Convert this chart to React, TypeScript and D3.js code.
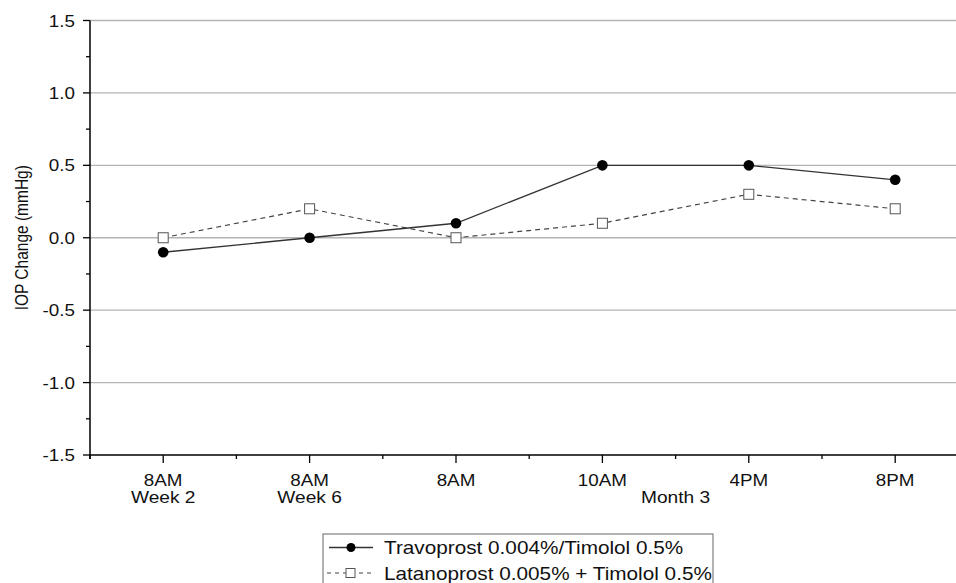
import React from "react";
import * as d3 from "d3";

const categories = ["c1", "c2", "c3", "c4", "c5", "c6"];
const timeLabels = ["8AM", "8AM", "8AM", "10AM", "4PM", "8PM"];
const groupLabels = [
  { text: "Week 2", from: 0, to: 0 },
  { text: "Week 6", from: 1, to: 1 },
  { text: "Month 3", from: 2, to: 5 },
];
const travoprost = [-0.1, 0.0, 0.1, 0.5, 0.5, 0.4];
const latanoprost = [0.0, 0.2, 0.0, 0.1, 0.3, 0.2];
const yTicks = [-1.5, -1.0, -0.5, 0.0, 0.5, 1.0, 1.5];
const yMinorTicks = [-1.25, -0.75, -0.25, 0.25, 0.75, 1.25];
const legendLabels = [
  "Travoprost 0.004%/Timolol 0.5%",
  "Latanoprost 0.005% + Timolol 0.5%",
];

const W = 956;
const H = 583;
const FONT = "'Liberation Sans', Arial, sans-serif";
const SX = 1.14;

function T(props: {
  x: number;
  y: number;
  anchor?: "start" | "middle" | "end";
  size: number;
  dy?: string;
  children: React.ReactNode;
}) {
  return (
    <text
      transform={`translate(${props.x},${props.y}) scale(${SX},1)`}
      textAnchor={props.anchor || "start"}
      fontSize={props.size}
      dy={props.dy}
      fill="#111"
    >
      {props.children}
    </text>
  );
}

export default function App() {
  const left = 90;
  const band = 146.4;
  const x = d3
    .scaleBand<string>()
    .domain(categories)
    .range([left, left + band * categories.length])
    .paddingInner(0)
    .paddingOuter(0);
  const cx = (i: number) => (x(categories[i]) as number) + x.bandwidth() / 2;
  const y = d3.scaleLinear().domain([-1.5, 1.5]).range([455, 20.5]);

  const line = d3
    .line<number>()
    .x((_, i) => cx(i))
    .y((d) => y(d));

  const boundaries = categories.map((c) => x(c) as number);
  const axisY = y(-1.5);

  return (
    <svg
      width={W}
      height={H}
      style={{ position: "absolute", left: 0, top: 0, background: "#fff" }}
      fontFamily={FONT}
    >
      {yTicks.slice(1).map((t) => (
        <line
          key={"g" + t}
          x1={left}
          x2={W}
          y1={y(t)}
          y2={y(t)}
          stroke="#b4b4b4"
          strokeWidth={1.3}
        />
      ))}
      <line x1={left} x2={left} y1={y(1.5)} y2={axisY + 4} stroke="#000" strokeWidth={1.5} />
      {yTicks.map((t) => (
        <g key={"yt" + t}>
          <line x1={left - 7} x2={left} y1={y(t)} y2={y(t)} stroke="#000" strokeWidth={1.3} />
          <T x={left - 15} y={y(t) + 6} anchor="end" size={16.5}>
            {t.toFixed(1)}
          </T>
        </g>
      ))}
      {yMinorTicks.map((t) => (
        <line key={"ym" + t} x1={left - 4} x2={left} y1={y(t)} y2={y(t)} stroke="#000" strokeWidth={1.3} />
      ))}
      <text
        transform={`translate(27.5,${y(0)}) rotate(-90) scale(1,1.17)`}
        textAnchor="middle"
        fontSize={15.5}
        fill="#111"
      >
        IOP Change (mmHg)
      </text>
      <line x1={left - 1} x2={W} y1={axisY} y2={axisY} stroke="#000" strokeWidth={1.5} />
      {boundaries.map((b, i) => (
        <line key={"xb" + i} x1={b} x2={b} y1={axisY} y2={axisY + 4} stroke="#000" strokeWidth={1.3} />
      ))}
      {categories.map((c, i) => (
        <g key={"xc" + c}>
          <line x1={cx(i)} x2={cx(i)} y1={axisY} y2={axisY + 8} stroke="#000" strokeWidth={1.3} />
          <T x={cx(i)} y={486} anchor="middle" size={16.5}>
            {timeLabels[i]}
          </T>
        </g>
      ))}
      {groupLabels.map((g) => (
        <T key={g.text} x={(cx(g.from) + cx(g.to)) / 2} y={503} anchor="middle" size={16.8}>
          {g.text}
        </T>
      ))}
      <path d={line(latanoprost) || ""} fill="none" stroke="#444" strokeWidth={1.2} strokeDasharray="5,4" />
      <path d={line(travoprost) || ""} fill="none" stroke="#333" strokeWidth={1.3} />
      {latanoprost.map((v, i) => (
        <rect
          key={"l" + i}
          x={cx(i) - 5}
          y={y(v) - 5}
          width={10}
          height={10}
          fill="#fff"
          stroke="#555"
          strokeWidth={1}
        />
      ))}
      {travoprost.map((v, i) => (
        <circle key={"t" + i} cx={cx(i)} cy={y(v)} r={5.3} fill="#000" />
      ))}
      <rect x={323} y={534} width={390} height={60} fill="#fff" stroke="#666" strokeWidth={1} />
      <line x1={329} x2={373} y1={547.5} y2={547.5} stroke="#333" strokeWidth={1.3} />
      <circle cx={351} cy={547.5} r={4.5} fill="#000" />
      <T x={384} y={553.5} size={18.2}>
        {legendLabels[0]}
      </T>
      <line x1={327} x2={373} y1={573} y2={573} stroke="#444" strokeWidth={1.1} strokeDasharray="4,4" />
      <rect x={346} y={568.5} width={9} height={9} fill="#fff" stroke="#555" strokeWidth={1} />
      <T x={384} y={579.5} size={18.2}>
        {legendLabels[1]}
      </T>
    </svg>
  );
}
